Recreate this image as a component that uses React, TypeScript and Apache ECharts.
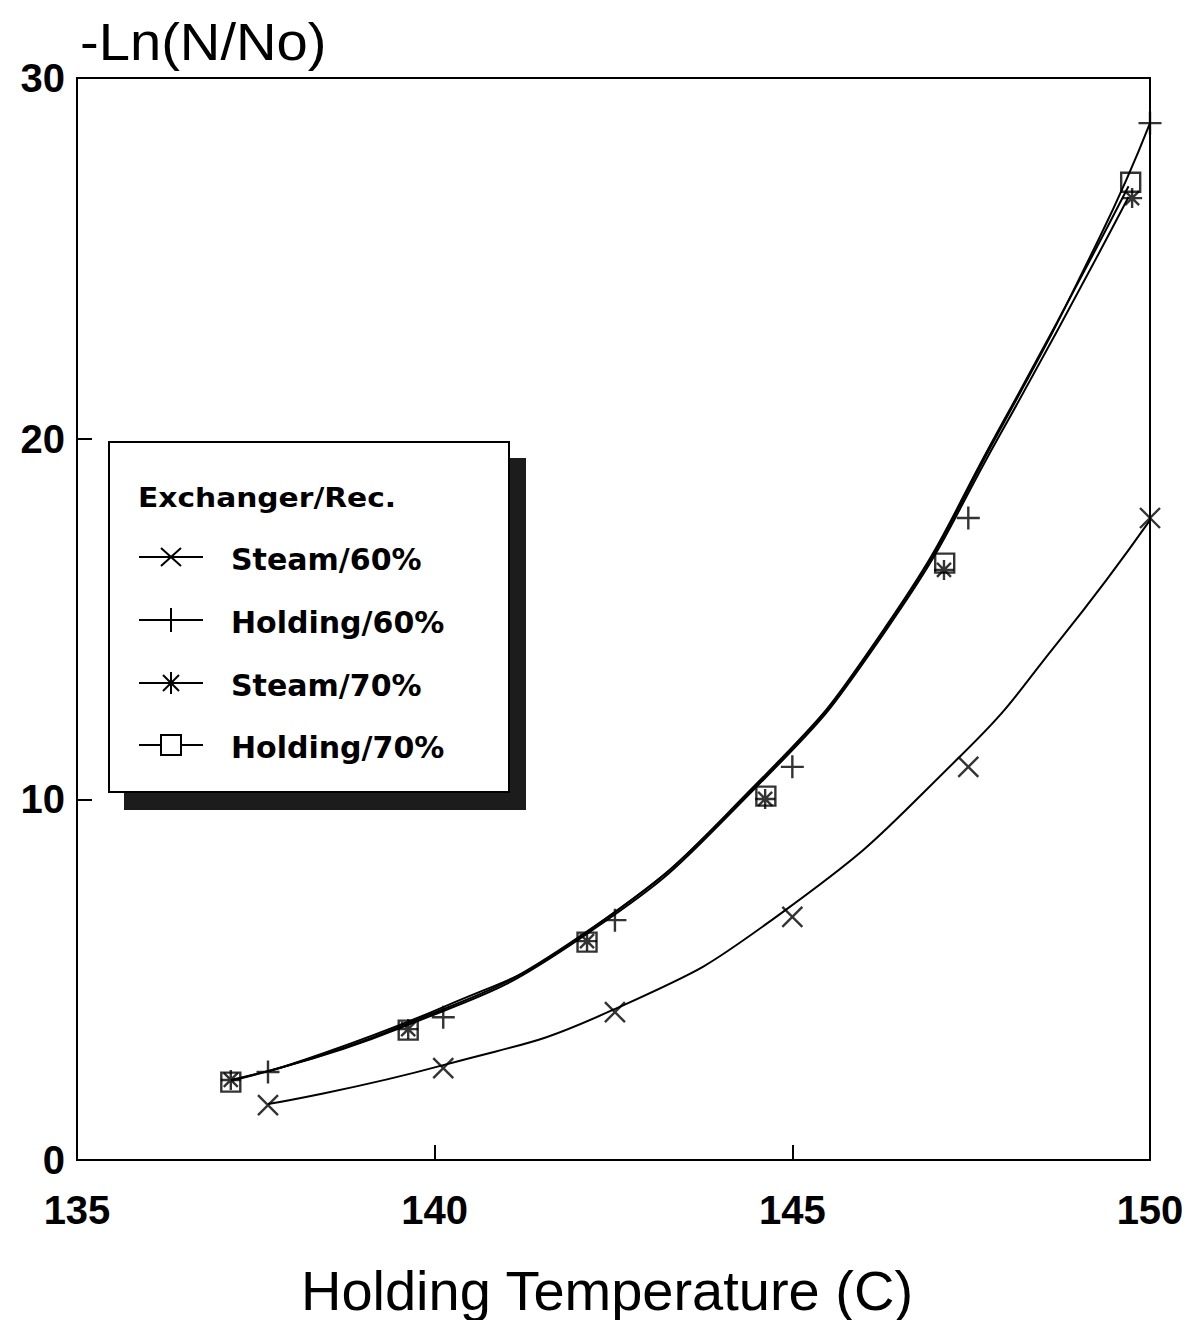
import React, { useEffect, useRef } from "react";
import * as echarts from "echarts";

// ---- Axis ticks ----
const xTicks = [135, 140, 145, 150];
const yTicks = [0, 10, 20, 30];

// ---- Plotted markers ----
const steam60X = [137.67, 140.12, 142.52, 145.0, 147.46, 150.0];
const steam60Y = [1.52, 2.55, 4.1, 6.74, 10.9, 17.8];
const holding60X = [137.67, 140.12, 142.52, 145.0, 147.46, 150.0];
const holding60Y = [2.44, 3.96, 6.65, 10.9, 17.8, 28.75];
const steam70X = [137.15, 139.63, 142.13, 144.62, 147.12, 149.75];
const steam70Y = [2.22, 3.63, 6.07, 10.01, 16.36, 26.67];
const holding70X = [137.15, 139.63, 142.13, 144.63, 147.13, 149.73];
const holding70Y = [2.16, 3.6, 6.04, 10.09, 16.55, 27.11];

// ---- Fitted curves ----
const steam60CurveX = [137.67, 140.12, 142.49, 144.87, 147.34, 148.74, 150.0];
const steam60CurveY = [1.55, 2.63, 4.16, 6.88, 11.18, 14.42, 17.74];
const holding60CurveX = [137.67, 140.12, 142.03, 144.5, 146.32, 147.9, 149.3, 150.0];
const holding60CurveY = [2.45, 4.24, 6.18, 10.4, 14.79, 20.24, 25.6, 28.75];
const steam70CurveX = [137.15, 139.47, 142.03, 144.5, 146.32, 147.9, 149.7];
const steam70CurveY = [2.22, 3.62, 6.14, 10.35, 14.72, 20.1, 26.7];
const holding70CurveX = [137.15, 139.47, 142.03, 144.5, 146.32, 147.9, 149.7];
const holding70CurveY = [2.2, 3.66, 6.2, 10.43, 14.83, 20.3, 27.0];

const seriesNames = ["Steam/60%", "Holding/60%", "Steam/70%", "Holding/70%"];
const legendTitle = "Exchanger/Rec.";
const xTitle = "Holding Temperature (C)";
const yTitle = "-Ln(N/No)";

const SYM_X = "path://M0,0L20,20M20,0L0,20";
const SYM_PLUS = "path://M0,10L20,10M10,0L10,20";
const SYM_STAR = "path://M0,10L20,10M10,0L10,20M3,3L17,17M17,3L3,17";
const SYM_SQ = "path://M0,0L20,0L20,20L0,20Z";

const zip = (xs: number[], ys: number[]) => xs.map((x, i) => [x, ys[i]]);

export default function App() {
  const ref = useRef<HTMLDivElement>(null);

  useEffect(() => {
    if (!ref.current) return;
    const chart = echarts.init(ref.current, null, { renderer: "svg" });

    const curve = (name: string, xs: number[], ys: number[]) => ({
      name: name + " fit",
      type: "line",
      data: zip(xs, ys),
      smooth: 0.5,
      showSymbol: false,
      symbol: "none",
      lineStyle: { color: "#000", width: 2 },
      z: 2,
      silent: true,
    });
    const marks = (name: string, xs: number[], ys: number[], sym: string, size: number) => ({
      name,
      type: "scatter",
      data: zip(xs, ys),
      symbol: sym,
      symbolSize: size,
      itemStyle: { color: "transparent", borderColor: "#000", borderWidth: 2.4 },
      z: 3,
      silent: true,
    });

    const legendX = 109;
    const legendY = 442;
    const rowY = [557, 620, 683, 745];
    const symCx = 171;
    const ln = (x1: number, y1: number, x2: number, y2: number) => ({
      type: "line",
      shape: { x1, y1, x2, y2 },
      style: { stroke: "#000", lineWidth: 2 },
    });
    const legendSymbols: any[] = [];
    rowY.forEach((y) => legendSymbols.push(ln(139, y, 203, y)));
    legendSymbols.push(ln(symCx - 10, rowY[0] - 9, symCx + 10, rowY[0] + 9));
    legendSymbols.push(ln(symCx + 10, rowY[0] - 9, symCx - 10, rowY[0] + 9));
    legendSymbols.push(ln(symCx, rowY[1] - 12, symCx, rowY[1] + 12));
    legendSymbols.push(ln(symCx, rowY[2] - 11, symCx, rowY[2] + 11));
    legendSymbols.push(ln(symCx - 8, rowY[2] - 8, symCx + 8, rowY[2] + 8));
    legendSymbols.push(ln(symCx + 8, rowY[2] - 8, symCx - 8, rowY[2] + 8));
    legendSymbols.push({
      type: "rect",
      shape: { x: symCx - 10, y: rowY[3] - 10, width: 20, height: 20 },
      style: { fill: "#fff", stroke: "#000", lineWidth: 2 },
    });

    const legendTexts = seriesNames.map((t, i) => ({
      type: "text",
      x: 231,
      y: rowY[i] + 2,
      style: {
        text: t,
        fill: "#000",
        font: "bold 30px 'DejaVu Sans'",
        fontFamily: "DejaVu Sans",
        fontWeight: "bold",
        fontSize: 30,
        textAlign: "left",
        textVerticalAlign: "middle",
        align: "left",
        verticalAlign: "middle",
      },
    }));

    chart.setOption({
      animation: false,
      backgroundColor: "#fff",
      grid: {
        left: 77,
        right: 39,
        top: 78,
        bottom: 160,
        show: true,
        borderColor: "#000",
        borderWidth: 2,
        containLabel: false,
      },
      xAxis: {
        type: "value",
        min: xTicks[0],
        max: xTicks[xTicks.length - 1],
        interval: 5,
        axisLine: { show: true, lineStyle: { color: "#000", width: 2 } },
        axisTick: { show: true, inside: true, length: 15, lineStyle: { color: "#000", width: 2 } },
        splitLine: { show: false },
        axisLabel: {
          color: "#000",
          fontFamily: "Liberation Sans",
          fontWeight: "bold",
          fontSize: 40,
          margin: 30,
        },
      },
      yAxis: {
        type: "value",
        min: yTicks[0],
        max: yTicks[yTicks.length - 1],
        interval: 10,
        axisLine: { show: true, lineStyle: { color: "#000", width: 2 } },
        axisTick: { show: true, inside: true, length: 15, lineStyle: { color: "#000", width: 2 } },
        splitLine: { show: false },
        axisLabel: {
          color: "#000",
          fontFamily: "Liberation Sans",
          fontWeight: "bold",
          fontSize: 40,
          margin: 12,
        },
      },
      graphic: [
        {
          type: "text",
          x: 80,
          y: 42,
          scaleX: 1.08,
          style: {
            text: yTitle,
            fill: "#000",
            font: "52px 'Liberation Sans'",
            fontFamily: "Liberation Sans",
            fontSize: 52,
            textAlign: "left",
            textVerticalAlign: "middle",
            align: "left",
            verticalAlign: "middle",
          },
        },
        {
          type: "text",
          x: 607,
          y: 1290,
          style: {
            text: xTitle,
            fill: "#000",
            font: "56px 'Liberation Sans'",
            fontFamily: "Liberation Sans",
            fontSize: 56,
            textAlign: "center",
            textVerticalAlign: "middle",
            align: "center",
            verticalAlign: "middle",
          },
        },
        {
          type: "group",
          z: 100,
          children: [
            {
              type: "rect",
              shape: { x: legendX + 15, y: legendY + 16, width: 402, height: 352 },
              style: { fill: "#1c1c1c" },
            },
            {
              type: "rect",
              shape: { x: legendX, y: legendY, width: 400, height: 350 },
              style: { fill: "#fff", stroke: "#000", lineWidth: 2 },
            },
            {
              type: "text",
              x: 138,
              y: 498,
              scaleX: 1.1,
              style: {
                text: legendTitle,
                fill: "#000",
                font: "bold 27px 'DejaVu Sans'",
                fontFamily: "DejaVu Sans",
                fontWeight: "bold",
                fontSize: 27,
                textAlign: "left",
                textVerticalAlign: "middle",
                align: "left",
                verticalAlign: "middle",
              },
            },
            ...legendSymbols,
            ...legendTexts,
          ],
        },
      ],
      series: [
        curve(seriesNames[0], steam60CurveX, steam60CurveY),
        curve(seriesNames[1], holding60CurveX, holding60CurveY),
        curve(seriesNames[2], steam70CurveX, steam70CurveY),
        curve(seriesNames[3], holding70CurveX, holding70CurveY),
        marks(seriesNames[0], steam60X, steam60Y, SYM_X, 20),
        marks(seriesNames[1], holding60X, holding60Y, SYM_PLUS, 23),
        marks(seriesNames[2], steam70X, steam70Y, SYM_STAR, 20),
        marks(seriesNames[3], holding70X, holding70Y, SYM_SQ, 19),
      ],
    });

    return () => chart.dispose();
  }, []);

  return (
    <div
      ref={ref}
      style={{ position: "absolute", left: 0, top: 0, width: 1189, height: 1320, background: "#fff" }}
    />
  );
}
